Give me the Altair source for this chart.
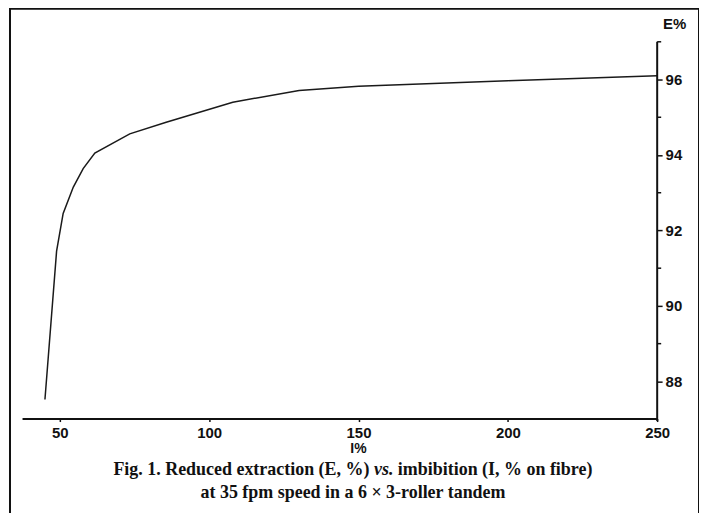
import altair as alt
import pandas as pd

# ---- data ----
imbibition = [45, 48.9, 51.1, 54.5, 57.8, 61.7, 73.4, 85.6, 107.9, 130.1, 150, 200, 250]
extraction = [87.52, 91.45, 92.45, 93.15, 93.64, 94.05, 94.56, 94.87, 95.40, 95.71, 95.82, 95.97, 96.10]

x_ticks = [50, 100, 150, 200, 250]
y_ticks = [88, 90, 92, 94, 96]
y_minor = [89, 91, 93, 95, 97]

x_axis_span = [37.5, 250]      # drawn x-axis line (I %)
x_axis_at = 87.0               # E value where x-axis sits
y_axis_span = [86.95, 97.0]    # drawn y-axis line (E %)
y_axis_at = 250                # I value where y-axis sits

caption_a = ["Fig. 1. Reduced extraction (E, %)"]
caption_vs = ["vs."]
caption_c = ["imbibition (I, % on fibre)"]
caption_2 = ["at 35 fpm speed in a 6 \u00d7 3-roller tandem"]

W, H = 691, 512
INK = "#111111"
SANS = "Liberation Sans"
SERIF = "Liberation Serif"

xs = alt.Scale(domain=[33.3, 264.0], nice=False, zero=False)
ys = alt.Scale(domain=[84.346, 97.876], nice=False, zero=False)

x_axis = alt.Axis(
    values=x_ticks, orient="bottom", offset=-101, domain=False, grid=False,
    tickSize=3, tickColor=INK, tickWidth=1.5,
    labelFont=SANS, labelFontSize=15, labelFontWeight="bold", labelColor=INK,
    labelPadding=4, labelFlush=False,
    title="I%", titleFont=SANS, titleFontSize=14, titleFontWeight="bold", titleColor=INK,
    titleX=349, titleY=30, titleBaseline="middle", titleAlign="center")
y_axis = alt.Axis(
    values=y_ticks, orient="right", offset=-42, domain=False, grid=False,
    tickSize=5, tickColor=INK, tickWidth=1.5,
    labelFont=SANS, labelFontSize=15, labelFontWeight="bold", labelColor=INK, labelPadding=3,
    title="E%", titleFont=SANS, titleFontSize=15, titleFontWeight="bold", titleColor=INK,
    titleAngle=0, titleX=17, titleY=15, titleBaseline="middle", titleAlign="center")

curve_df = pd.DataFrame({"I": imbibition, "E": extraction})
xaxis_df = pd.DataFrame({"I": [x_axis_span[0]], "I2": [x_axis_span[1]], "E": [x_axis_at]})
yaxis_df = pd.DataFrame({"I": [y_axis_at], "E": [y_axis_span[0]], "E2": [y_axis_span[1]]})
minor_df = pd.DataFrame({"I": [y_axis_at] * len(y_minor), "E": y_minor})

base_x = alt.X("I:Q", scale=xs, axis=x_axis)
base_y = alt.Y("E:Q", scale=ys, axis=y_axis)

line = alt.Chart(curve_df).mark_line(color="#1a1a1a", strokeWidth=1.5).encode(
    x=base_x, y=base_y)

xaxis_rule = alt.Chart(xaxis_df).mark_rule(color=INK, strokeWidth=2).encode(
    x=base_x, x2="I2:Q", y=base_y)

yaxis_rule = alt.Chart(yaxis_df).mark_rule(color=INK, strokeWidth=2).encode(
    x=base_x, y=base_y, y2="E2:Q")

minor = alt.Chart(minor_df).mark_tick(orient="horizontal", size=4, thickness=1.5,
                                      xOffset=2, color=INK, opacity=1).encode(
    x=base_x, y=base_y)

def cap(txt, x, y, align, style="normal"):
    return alt.Chart(pd.DataFrame({"t": txt})).mark_text(
        font=SERIF, fontSize=18, fontWeight="bold", fontStyle=style, color=INK,
        align=align, baseline="middle").encode(
        text="t:N", x=alt.value(x), y=alt.value(y))

cap_a = cap(caption_a, 360.5, 463, "right")
cap_vs = cap(caption_vs, 365, 463, "left", "italic")
cap_c = cap(caption_c, 389, 463, "left")
cap_2 = cap(caption_2, 344, 486, "center")

chart = alt.layer(line, xaxis_rule, yaxis_rule, minor, cap_a, cap_vs, cap_c, cap_2).properties(
    width=W, height=H, padding={"left": 2, "top": 0, "right": 0, "bottom": 0},
    background="white"
).configure_view(stroke=INK, strokeWidth=2)

chart.save("out.html", embed_options={"renderer": "svg", "actions": False})
